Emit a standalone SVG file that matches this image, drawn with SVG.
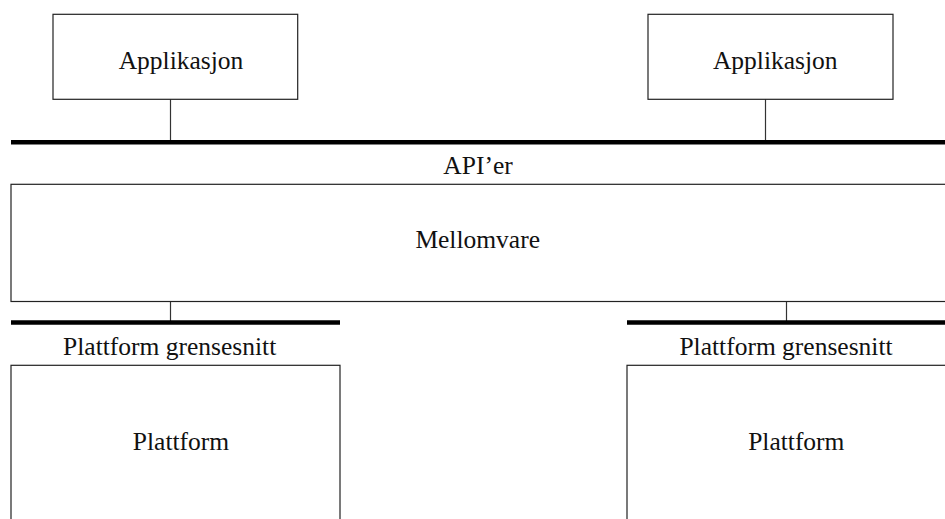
<svg xmlns="http://www.w3.org/2000/svg" width="945" height="519" viewBox="0 0 945 519">
<style>
.box{fill:#fff;stroke:#222;stroke-width:1.2}
.bar{stroke:#000;stroke-width:4.5}
.thin{stroke:#333;stroke-width:1.2}
text{font-family:"Liberation Serif","Times New Roman",serif;font-size:25.5px;fill:#111;text-anchor:middle}
</style>
<rect width="945" height="519" fill="#fff"/>
<g id="connectors">
<line class="thin" x1="170.5" y1="99" x2="170.5" y2="141"/>
<line class="thin" x1="765.5" y1="99" x2="765.5" y2="141"/>
<line class="thin" x1="170.5" y1="301.5" x2="170.5" y2="321"/>
<line class="thin" x1="786.5" y1="301.5" x2="786.5" y2="321"/>
</g>
<g id="app1"><rect class="box" x="53" y="14.3" width="244.7" height="85"/><text x="181" y="68.5">Applikasjon</text></g>
<g id="app2"><rect class="box" x="648" y="14.3" width="245" height="85"/><text x="775.3" y="68.5">Applikasjon</text></g>
<g id="api"><line class="bar" x1="11" y1="142.3" x2="945" y2="142.3"/><text x="478" y="174">API’er</text></g>
<g id="mellomvare"><rect class="box" x="11" y="184.3" width="940" height="117.2"/><text x="477.7" y="248">Mellomvare</text></g>
<g id="grensesnitt1"><line class="bar" x1="11" y1="322.6" x2="340" y2="322.6"/><text x="169.7" y="354.5">Plattform grensesnitt</text></g>
<g id="grensesnitt2"><line class="bar" x1="627" y1="322.6" x2="945" y2="322.6"/><text x="786" y="354.5">Plattform grensesnitt</text></g>
<g id="plattform1"><rect class="box" x="11" y="365.3" width="329" height="160"/><text x="181" y="450.3">Plattform</text></g>
<g id="plattform2"><rect class="box" x="627" y="365.3" width="330" height="160"/><text x="796.3" y="450.3">Plattform</text></g>
</svg>
